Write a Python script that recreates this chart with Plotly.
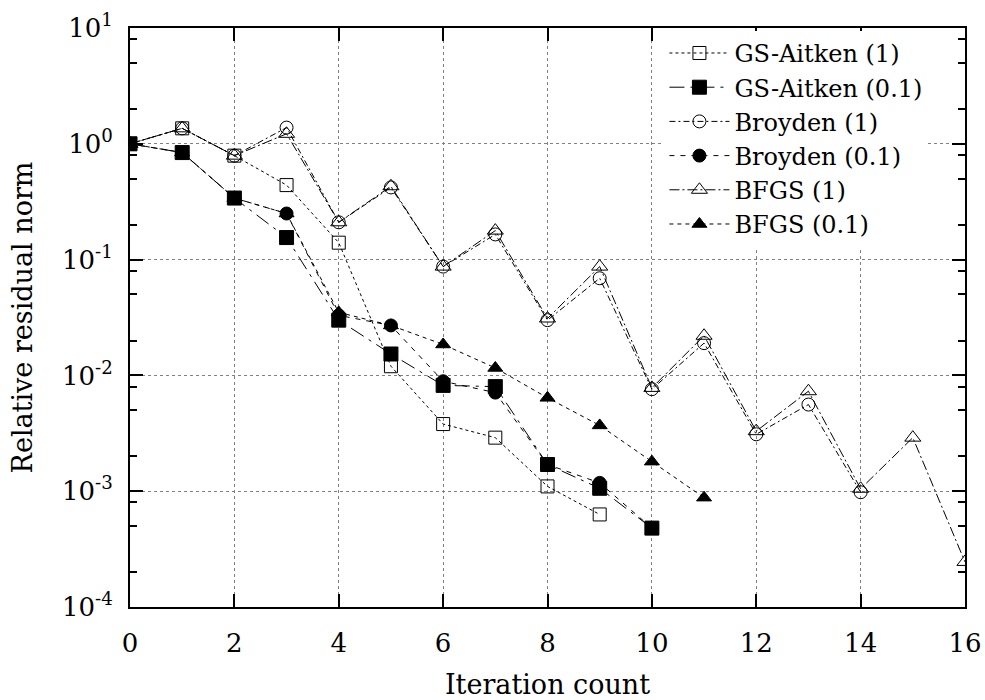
import plotly.graph_objects as go

iterations = list(range(0, 17))

gs_aitken_1 = [1.0, 1.36, 0.79, 0.44, 0.14, 0.012, 0.0038, 0.0029, 0.0011, 0.00063]
gs_aitken_01 = [1.0, 0.84, 0.34, 0.155, 0.030, 0.0153, 0.0082, 0.0080, 0.0017, 0.00106, 0.00048]
broyden_1 = [1.0, 1.36, 0.79, 1.38, 0.21, 0.42, 0.087, 0.165, 0.030, 0.069, 0.0076, 0.019, 0.0031, 0.0056, 0.00098]
broyden_01 = [1.0, 0.84, 0.34, 0.25, 0.033, 0.027, 0.0089, 0.0071, 0.0017, 0.00118, 0.00048]
bfgs_1 = [1.0, 1.36, 0.79, 1.22, 0.21, 0.43, 0.087, 0.178, 0.031, 0.087, 0.0078, 0.022, 0.0033, 0.0073, 0.00105, 0.0029, 0.000245]
bfgs_01 = [1.0, 0.84, 0.34, 0.25, 0.035, 0.027, 0.0185, 0.0116, 0.0064, 0.0037, 0.0018, 0.00088]

series_names = ["GS-Aitken (1)", "GS-Aitken (0.1)", "Broyden (1)", "Broyden (0.1)", "BFGS (1)", "BFGS (0.1)"]
series_values = [gs_aitken_1, gs_aitken_01, broyden_1, broyden_01, bfgs_1, bfgs_01]
series_symbols = ["square-open", "square", "circle-open", "circle", "triangle-up-open", "triangle-up"]
series_dash = ["dot", "longdashdot", "6px,3px,2px,3px", "5px,6px", "10px,3px,2px,3px", "4px,4px"]
series_size = [13, 14, 13, 13, 14, 13]

x_ticks = [0, 2, 4, 6, 8, 10, 12, 14, 16]
y_tick_vals = [1e-4, 1e-3, 1e-2, 1e-1, 1e0, 1e1]
y_tick_text = ["10<sup>-4</sup>", "10<sup>-3</sup>", "10<sup>-2</sup>", "10<sup>-1</sup>", "10<sup>0</sup>", "10<sup>1</sup>"]
y_minor_vals = [m * 10.0 ** e for e in range(-4, 1) for m in (2, 5, 8)]

FONT = "DejaVu Serif"

fig = go.Figure()
for name, vals, sym, dash, sz in zip(series_names, series_values, series_symbols, series_dash, series_size):
    fig.add_trace(go.Scatter(
        x=iterations[:len(vals)], y=vals, name=name, mode="lines+markers",
        line=dict(color="black", width=1, dash=dash),
        marker=dict(symbol=sym, size=sz, color="black", line=dict(color="black", width=1)),
    ))

axis_common = dict(
    showline=True, linecolor="black", linewidth=2, mirror="ticks",
    ticks="inside", ticklen=13, tickwidth=2, tickcolor="black",
    showgrid=True, gridcolor="#808080", griddash="dot", gridwidth=1,
    zeroline=False, automargin=False, ticklabeloverflow="allow",
    tickfont=dict(family=FONT, size=26, color="black"),
)

fig.update_xaxes(
    range=[0, 16], tickmode="array", tickvals=x_ticks, ticklabelstandoff=12,
    title=dict(text="Iteration count", font=dict(family=FONT, size=27, color="black"), standoff=24),
    **axis_common,
)
fig.update_yaxes(
    type="log", range=[-4, 1], tickmode="array", tickvals=y_tick_vals, ticktext=y_tick_text,
    ticklabelstandoff=10,
    title=dict(text="Relative residual norm", font=dict(family=FONT, size=27, color="black"), standoff=22),
    minor=dict(tickmode="array", tickvals=y_minor_vals, ticks="inside", ticklen=7, tickwidth=2,
               tickcolor="black", showgrid=False),
    **axis_common,
)

fig.update_layout(
    width=985, height=700,
    margin=dict(l=130, r=20, t=28, b=93),
    paper_bgcolor="white", plot_bgcolor="white",
    font=dict(family=FONT, size=26, color="black"),
    legend=dict(
        x=0.955, y=0.995, xanchor="right", yanchor="top",
        bgcolor="white", borderwidth=0,
        font=dict(family=FONT, size=24, color="black"),
        tracegroupgap=0, itemwidth=60,
    ),
)

fig.write_html(
    "out.html",
    config={"displayModeBar": False},
    post_script="document.body.style.margin='0';document.body.style.overflow='hidden';",
)
